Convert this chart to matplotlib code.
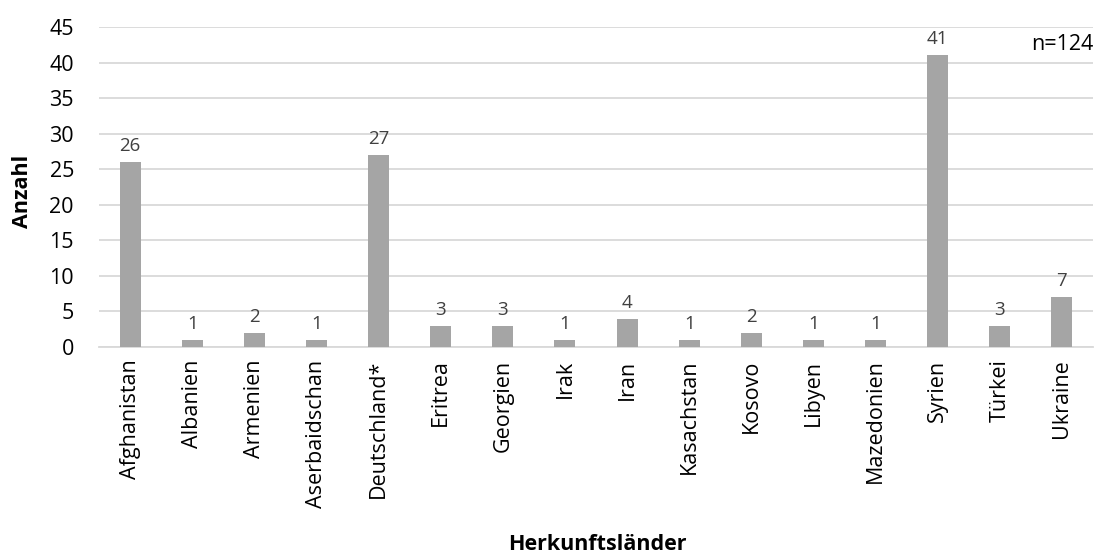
import matplotlib
matplotlib.use("Agg")
import matplotlib.pyplot as plt

countries = ["Afghanistan", "Albanien", "Armenien", "Aserbaidschan", "Deutschland*",
             "Eritrea", "Georgien", "Irak", "Iran", "Kasachstan", "Kosovo", "Libyen",
             "Mazedonien", "Syrien", "Türkei", "Ukraine"]
counts = [26, 1, 2, 1, 27, 3, 3, 1, 4, 1, 2, 1, 1, 41, 3, 7]
yticks = [0, 5, 10, 15, 20, 25, 30, 35, 40, 45]

plt.rcParams['font.family'] = ['Open Sans', 'DejaVu Sans']

fig = plt.figure(figsize=(10.97, 5.54), dpi=100)
ax = fig.add_axes([99/1097, 1 - 347/554, (1093-99)/1097, (347-27)/554])

x = range(len(countries))
ax.bar(x, counts, width=0.34, color="#A5A5A5", zorder=3)
for xi, v in zip(x, counts):
    ax.annotate(str(v), (xi, v), xytext=(0, 7), textcoords="offset pixels",
                ha="center", va="bottom", fontsize=13.5, color="#404040")

ax.set_xlim(-0.5, len(countries) - 0.5)
ax.set_ylim(0, 45)
ax.set_yticks(yticks)
ax.set_yticklabels([str(t) for t in yticks], fontsize=15.5, color="black")
ax.set_xticks(list(x))
ax.set_xticklabels(countries, rotation=90, fontsize=15.5, color="black")
ax.tick_params(axis="y", length=0, pad=18)
ax.tick_params(axis="x", length=0, pad=9)
ax.grid(axis="y", color="#D9D9D9", linewidth=1.3, zorder=0)
for s in ["top", "right", "left"]:
    ax.spines[s].set_visible(False)
ax.spines["bottom"].set_color("#D9D9D9")
ax.spines["bottom"].set_linewidth(1.3)

fig.text(23/1097, 1 - 191/554, "Anzahl", rotation=90, ha="center", va="center",
         fontsize=15.5, fontweight="bold")
fig.text(597/1097, 1 - 545/554, "Herkunftsländer", ha="center", va="center",
         fontsize=15.5, fontweight="bold")
fig.text(1093/1097, 1 - 44/554, "n=124", ha="right", va="center", fontsize=15.5)

fig.savefig("out.png", dpi=100)
